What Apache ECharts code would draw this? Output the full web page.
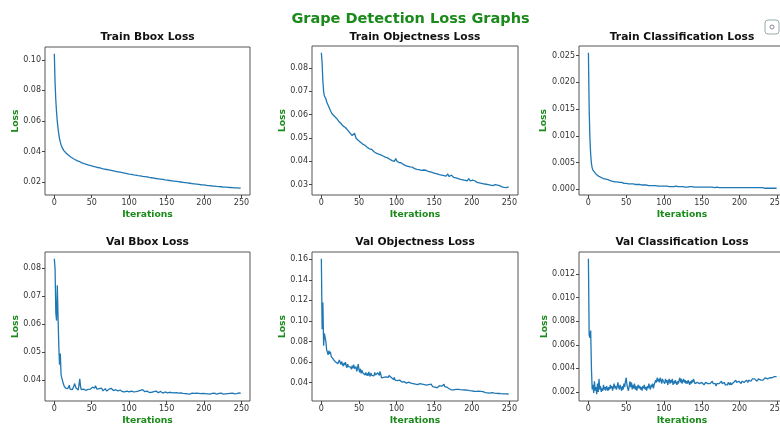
<!DOCTYPE html>
<html><head><meta charset="utf-8">
<script src="https://cdn.jsdelivr.net/npm/echarts@6/dist/echarts.min.js"></script>
<style>html,body{margin:0;padding:0;background:#fff}#c{width:780px;height:427px}</style>
</head><body><div id="c"></div>
<script>
// ---------- DATA (iterations 0..249) ----------
const trainBbox = [
0.1040,0.0850,0.0735,0.0655,0.0595,0.0550,0.0512,0.0483,0.0461,0.0444,
0.0431,0.0420,0.0411,0.0404,0.0398,0.0392,0.0388,0.0383,0.0379,0.0375,
0.0371,0.0367,0.0364,0.0360,0.0357,0.0354,0.0351,0.0348,0.0346,0.0343,
0.0341,0.0338,0.0336,0.0330,0.0333,0.0329,0.0327,0.0325,0.0324,0.0322,
0.0320,0.0319,0.0317,0.0316,0.0314,0.0313,0.0311,0.0310,0.0308,0.0307,
0.0306,0.0304,0.0303,0.0302,0.0300,0.0299,0.0298,0.0297,0.0295,0.0294,
0.0293,0.0292,0.0291,0.0289,0.0288,0.0287,0.0286,0.0285,0.0284,0.0283,
0.0282,0.0281,0.0280,0.0279,0.0278,0.0277,0.0276,0.0275,0.0274,0.0273,
0.0272,0.0271,0.0270,0.0269,0.0268,0.0267,0.0266,0.0265,0.0264,0.0263,
0.0262,0.0261,0.0260,0.0259,0.0258,0.0257,0.0256,0.0255,0.0254,0.0253,
0.0252,0.0251,0.0250,0.0250,0.0249,0.0248,0.0247,0.0246,0.0245,0.0245,
0.0244,0.0243,0.0242,0.0241,0.0241,0.0240,0.0239,0.0238,0.0237,0.0237,
0.0236,0.0235,0.0234,0.0233,0.0233,0.0232,0.0231,0.0230,0.0229,0.0229,
0.0228,0.0227,0.0226,0.0226,0.0225,0.0224,0.0223,0.0223,0.0222,0.0221,
0.0220,0.0220,0.0219,0.0218,0.0217,0.0217,0.0216,0.0215,0.0214,0.0214,
0.0213,0.0212,0.0212,0.0211,0.0210,0.0209,0.0209,0.0208,0.0207,0.0207,
0.0206,0.0205,0.0205,0.0204,0.0203,0.0202,0.0202,0.0201,0.0200,0.0200,
0.0199,0.0198,0.0198,0.0197,0.0196,0.0196,0.0195,0.0194,0.0194,0.0193,
0.0192,0.0192,0.0191,0.0190,0.0190,0.0189,0.0188,0.0188,0.0187,0.0187,
0.0186,0.0185,0.0185,0.0184,0.0184,0.0183,0.0182,0.0182,0.0181,0.0181,
0.0180,0.0179,0.0179,0.0178,0.0178,0.0177,0.0177,0.0176,0.0176,0.0175,
0.0175,0.0174,0.0174,0.0173,0.0173,0.0172,0.0172,0.0171,0.0171,0.0170,
0.0170,0.0170,0.0169,0.0169,0.0168,0.0168,0.0167,0.0167,0.0167,0.0166,
0.0166,0.0165,0.0165,0.0165,0.0164,0.0164,0.0163,0.0163,0.0163,0.0162,
0.0162,0.0162,0.0161,0.0161,0.0161,0.0160,0.0160,0.0160,0.0159,0.0161];

const trainObj = [
0.0865,0.0820,0.0745,0.0700,0.0680,0.0672,0.0668,0.0655,0.0648,0.0640,
0.0632,0.0638,0.0618,0.0612,0.0605,0.0610,0.0598,0.0594,0.0600,0.0588,
0.0585,0.0579,0.0584,0.0572,0.0568,0.0575,0.0562,0.0558,0.0564,0.0551,
0.0553,0.0548,0.0545,0.0549,0.0540,0.0534,0.0538,0.0530,0.0522,0.0526,
0.0519,0.0510,0.0506,0.0512,0.0521,0.0513,0.0500,0.0496,0.0499,0.0490,
0.0484,0.0490,0.0482,0.0477,0.0481,0.0474,0.0470,0.0476,0.0469,0.0463,
0.0467,0.0460,0.0455,0.0459,0.0454,0.0449,0.0456,0.0451,0.0445,0.0448,
0.0441,0.0446,0.0440,0.0435,0.0439,0.0436,0.0431,0.0437,0.0433,0.0428,
0.0431,0.0426,0.0423,0.0428,0.0421,0.0418,0.0424,0.0419,0.0415,0.0420,
0.0412,0.0409,0.0414,0.0407,0.0403,0.0410,0.0405,0.0400,0.0407,0.0412,
0.0403,0.0397,0.0401,0.0395,0.0392,0.0399,0.0394,0.0389,0.0393,0.0387,
0.0391,0.0386,0.0382,0.0388,0.0384,0.0379,0.0385,0.0381,0.0376,0.0383,
0.0380,0.0375,0.0378,0.0372,0.0369,0.0375,0.0371,0.0366,0.0372,0.0368,
0.0365,0.0370,0.0366,0.0361,0.0365,0.0359,0.0363,0.0360,0.0356,0.0362,
0.0358,0.0362,0.0357,0.0353,0.0358,0.0355,0.0350,0.0356,0.0352,0.0348,
0.0353,0.0349,0.0354,0.0350,0.0346,0.0351,0.0347,0.0343,0.0348,0.0344,
0.0341,0.0346,0.0342,0.0339,0.0344,0.0340,0.0337,0.0342,0.0346,0.0338,
0.0335,0.0339,0.0336,0.0341,0.0344,0.0335,0.0331,0.0336,0.0332,0.0329,
0.0333,0.0329,0.0326,0.0331,0.0327,0.0323,0.0328,0.0325,0.0321,0.0326,
0.0322,0.0319,0.0324,0.0320,0.0317,0.0322,0.0326,0.0320,0.0316,0.0319,
0.0315,0.0320,0.0316,0.0312,0.0317,0.0321,0.0314,0.0310,0.0315,0.0311,
0.0308,0.0313,0.0309,0.0306,0.0311,0.0307,0.0304,0.0309,0.0305,0.0302,
0.0307,0.0303,0.0300,0.0305,0.0301,0.0298,0.0303,0.0299,0.0296,0.0301,
0.0297,0.0300,0.0296,0.0293,0.0298,0.0294,0.0291,0.0296,0.0292,0.0295,
0.0291,0.0288,0.0293,0.0289,0.0286,0.0291,0.0288,0.0285,0.0290,0.0291];

const trainCls = [
0.0255,0.0150,0.0095,0.0065,0.0048,0.0040,0.0036,0.0034,0.0032,0.0030,
0.0029,0.0027,0.0026,0.0025,0.0024,0.0023,0.0023,0.0022,0.0021,0.0021,
0.0020,0.0020,0.0019,0.0019,0.0018,0.0018,0.0018,0.0017,0.0017,0.0016,
0.0016,0.0016,0.0015,0.0015,0.0015,0.0014,0.0014,0.0014,0.0014,0.0013,
0.0013,0.0013,0.0013,0.0012,0.0013,0.0012,0.0012,0.0011,0.0012,0.0011,
0.0011,0.0011,0.0011,0.0010,0.0011,0.0010,0.0010,0.0010,0.0010,0.0010,
0.0009,0.0010,0.0009,0.0009,0.0009,0.0009,0.0009,0.0008,0.0009,0.0008,
0.0008,0.0008,0.0008,0.0008,0.0008,0.0008,0.0007,0.0008,0.0007,0.0007,
0.0007,0.0007,0.0007,0.0007,0.0007,0.0008,0.0007,0.0007,0.0006,0.0007,
0.0006,0.0007,0.0006,0.0006,0.0006,0.0006,0.0006,0.0006,0.0006,0.0006,
0.0006,0.0006,0.0006,0.0005,0.0006,0.0005,0.0006,0.0005,0.0005,0.0005,
0.0005,0.0006,0.0005,0.0005,0.0005,0.0005,0.0006,0.0005,0.0005,0.0005,
0.0005,0.0005,0.0005,0.0005,0.0004,0.0005,0.0005,0.0005,0.0004,0.0005,
0.0005,0.0004,0.0005,0.0004,0.0005,0.0004,0.0004,0.0005,0.0004,0.0004,
0.0004,0.0005,0.0004,0.0004,0.0004,0.0004,0.0004,0.0004,0.0004,0.0004,
0.0004,0.0004,0.0004,0.0004,0.0004,0.0004,0.0004,0.0004,0.0004,0.0004,
0.0004,0.0004,0.0004,0.0003,0.0004,0.0004,0.0004,0.0003,0.0004,0.0004,
0.0004,0.0003,0.0004,0.0003,0.0004,0.0003,0.0003,0.0004,0.0003,0.0003,
0.0003,0.0004,0.0003,0.0003,0.0003,0.0003,0.0003,0.0003,0.0003,0.0003,
0.0003,0.0003,0.0003,0.0003,0.0003,0.0003,0.0003,0.0003,0.0003,0.0003,
0.0003,0.0003,0.0003,0.0003,0.0003,0.0003,0.0003,0.0003,0.0003,0.0003,
0.0003,0.0003,0.0003,0.0003,0.0003,0.0003,0.0003,0.0003,0.0003,0.0003,
0.0003,0.0003,0.0003,0.0003,0.0003,0.0002,0.0003,0.0003,0.0003,0.0002,
0.0003,0.0002,0.0003,0.0002,0.0002,0.0003,0.0002,0.0002,0.0002,0.0002,
0.0002,0.0002,0.0002,0.0002,0.0002,0.0002,0.0002,0.0002,0.0002,0.0002];

const valBbox = [
0.0832,0.0795,0.0640,0.0612,0.0738,0.0625,0.0520,0.0455,0.0495,0.0420,
0.0408,0.0402,0.0388,0.0380,0.0376,0.0372,0.0378,0.0374,0.0370,0.0376,
0.0382,0.0368,0.0364,0.0372,0.0366,0.0370,0.0378,0.0388,0.0392,0.0372,
0.0368,0.0374,0.0365,0.0385,0.0405,0.0378,0.0366,0.0370,0.0363,0.0368,
0.0366,0.0372,0.0364,0.0369,0.0362,0.0367,0.0371,0.0365,0.0368,0.0362,
0.0370,0.0375,0.0368,0.0378,0.0372,0.0380,0.0374,0.0368,0.0372,0.0366,
0.0370,0.0364,0.0368,0.0372,0.0366,0.0362,0.0368,0.0364,0.0370,0.0365,
0.0361,0.0367,0.0363,0.0368,0.0362,0.0366,0.0371,0.0365,0.0369,0.0363,
0.0367,0.0362,0.0366,0.0360,0.0365,0.0362,0.0367,0.0361,0.0365,0.0360,
0.0363,0.0359,0.0364,0.0360,0.0358,0.0362,0.0357,0.0361,0.0356,0.0360,
0.0358,0.0363,0.0357,0.0361,0.0356,0.0360,0.0358,0.0362,0.0357,0.0359,
0.0363,0.0358,0.0361,0.0356,0.0360,0.0364,0.0359,0.0362,0.0366,0.0360,
0.0364,0.0359,0.0363,0.0358,0.0361,0.0357,0.0360,0.0356,0.0359,0.0362,
0.0357,0.0360,0.0356,0.0359,0.0355,0.0358,0.0361,0.0356,0.0359,0.0355,
0.0358,0.0356,0.0360,0.0355,0.0358,0.0354,0.0357,0.0355,0.0358,0.0354,
0.0357,0.0355,0.0359,0.0354,0.0357,0.0355,0.0358,0.0356,0.0354,0.0357,
0.0355,0.0358,0.0354,0.0356,0.0353,0.0356,0.0354,0.0357,0.0353,0.0355,
0.0352,0.0355,0.0353,0.0351,0.0354,0.0352,0.0350,0.0353,0.0351,0.0354,
0.0352,0.0350,0.0353,0.0351,0.0354,0.0352,0.0350,0.0353,0.0355,0.0352,
0.0354,0.0351,0.0356,0.0353,0.0351,0.0354,0.0352,0.0355,0.0351,0.0353,
0.0351,0.0354,0.0352,0.0350,0.0353,0.0351,0.0354,0.0352,0.0350,0.0353,
0.0351,0.0353,0.0350,0.0352,0.0354,0.0351,0.0353,0.0350,0.0352,0.0351,
0.0353,0.0350,0.0352,0.0354,0.0351,0.0353,0.0350,0.0352,0.0354,0.0351,
0.0353,0.0355,0.0352,0.0354,0.0351,0.0353,0.0355,0.0352,0.0354,0.0352,
0.0354,0.0351,0.0353,0.0355,0.0352,0.0354,0.0353,0.0355,0.0352,0.0353];

const valObj = [
0.1605,0.0920,0.1180,0.0760,0.0880,0.0895,0.0800,0.0720,0.0695,0.0670,
0.0710,0.0680,0.0700,0.0655,0.0640,0.0660,0.0625,0.0610,0.0630,0.0600,
0.0590,0.0615,0.0585,0.0600,0.0620,0.0595,0.0575,0.0605,0.0580,0.0560,
0.0590,0.0570,0.0600,0.0565,0.0545,0.0580,0.0555,0.0540,0.0570,0.0550,
0.0530,0.0565,0.0540,0.0575,0.0535,0.0520,0.0555,0.0510,0.0540,0.0580,
0.0525,0.0500,0.0535,0.0490,0.0520,0.0495,0.0480,0.0510,0.0475,0.0500,
0.0470,0.0490,0.0465,0.0505,0.0480,0.0460,0.0495,0.0470,0.0455,0.0485,
0.0465,0.0500,0.0475,0.0490,0.0460,0.0495,0.0505,0.0470,0.0510,0.0480,
0.0445,0.0455,0.0440,0.0450,0.0435,0.0445,0.0455,0.0440,0.0460,0.0450,
0.0470,0.0455,0.0475,0.0450,0.0465,0.0445,0.0430,0.0450,0.0425,0.0440,
0.0430,0.0420,0.0435,0.0415,0.0425,0.0410,0.0420,0.0405,0.0415,0.0400,
0.0410,0.0420,0.0400,0.0395,0.0410,0.0395,0.0405,0.0390,0.0400,0.0395,
0.0385,0.0400,0.0390,0.0380,0.0395,0.0385,0.0375,0.0390,0.0380,0.0385,
0.0375,0.0390,0.0380,0.0395,0.0385,0.0375,0.0390,0.0380,0.0370,0.0385,
0.0375,0.0390,0.0370,0.0380,0.0365,0.0375,0.0385,0.0370,0.0360,0.0375,
0.0365,0.0355,0.0370,0.0360,0.0350,0.0365,0.0355,0.0370,0.0360,0.0375,
0.0365,0.0380,0.0370,0.0385,0.0360,0.0350,0.0345,0.0355,0.0340,0.0350,
0.0340,0.0335,0.0345,0.0330,0.0340,0.0335,0.0330,0.0340,0.0325,0.0335,
0.0330,0.0325,0.0335,0.0328,0.0322,0.0332,0.0325,0.0320,0.0330,0.0324,
0.0320,0.0328,0.0322,0.0318,0.0326,0.0320,0.0330,0.0322,0.0316,0.0325,
0.0320,0.0315,0.0322,0.0316,0.0312,0.0320,0.0314,0.0318,0.0310,0.0316,
0.0312,0.0308,0.0314,0.0309,0.0305,0.0312,0.0306,0.0310,0.0303,0.0308,
0.0304,0.0300,0.0306,0.0301,0.0297,0.0303,0.0298,0.0302,0.0296,0.0300,
0.0297,0.0293,0.0299,0.0295,0.0292,0.0298,0.0294,0.0291,0.0296,0.0292,
0.0290,0.0295,0.0291,0.0288,0.0293,0.0290,0.0287,0.0292,0.0289,0.0291];

const valCls = [
0.0133,0.0068,0.0066,0.0072,0.0040,0.0022,0.0026,0.0019,0.0029,0.0021,
0.0024,0.0018,0.0027,0.0020,0.0031,0.0022,0.0025,0.0020,0.0023,0.0021,
0.0026,0.0022,0.0024,0.0021,0.0025,0.0023,0.0021,0.0024,0.0022,0.0026,
0.0023,0.0025,0.0021,0.0024,0.0027,0.0023,0.0025,0.0022,0.0024,0.0028,
0.0024,0.0022,0.0026,0.0023,0.0021,0.0025,0.0022,0.0027,0.0024,0.0029,
0.0032,0.0026,0.0023,0.0021,0.0025,0.0029,0.0024,0.0028,0.0022,0.0026,
0.0023,0.0027,0.0022,0.0025,0.0021,0.0024,0.0026,0.0023,0.0025,0.0022,
0.0024,0.0021,0.0025,0.0023,0.0026,0.0022,0.0024,0.0021,0.0025,0.0023,
0.0027,0.0024,0.0022,0.0026,0.0024,0.0027,0.0023,0.0026,0.0025,0.0030,
0.0028,0.0032,0.0029,0.0031,0.0028,0.0032,0.0030,0.0027,0.0031,0.0029,
0.0030,0.0027,0.0031,0.0028,0.0030,0.0026,0.0029,0.0031,0.0027,0.0030,
0.0028,0.0031,0.0026,0.0029,0.0027,0.0030,0.0028,0.0026,0.0029,0.0027,
0.0030,0.0032,0.0028,0.0031,0.0027,0.0029,0.0031,0.0028,0.0030,0.0027,
0.0029,0.0027,0.0030,0.0028,0.0026,0.0029,0.0027,0.0030,0.0028,0.0031,
0.0029,0.0027,0.0028,0.0026,0.0028,0.0027,0.0029,0.0027,0.0028,0.0026,
0.0028,0.0027,0.0028,0.0026,0.0027,0.0028,0.0027,0.0029,0.0027,0.0028,
0.0026,0.0027,0.0028,0.0027,0.0029,0.0027,0.0026,0.0028,0.0027,0.0025,
0.0027,0.0026,0.0028,0.0027,0.0026,0.0027,0.0029,0.0027,0.0026,0.0027,
0.0028,0.0026,0.0027,0.0025,0.0026,0.0028,0.0027,0.0026,0.0028,0.0026,
0.0027,0.0026,0.0028,0.0027,0.0029,0.0030,0.0028,0.0029,0.0027,0.0029,
0.0028,0.0029,0.0027,0.0029,0.0028,0.0030,0.0028,0.0029,0.0028,0.0030,
0.0029,0.0028,0.0030,0.0029,0.0031,0.0029,0.0030,0.0031,0.0030,0.0032,
0.0031,0.0030,0.0031,0.0029,0.0030,0.0031,0.0030,0.0031,0.0030,0.0031,
0.0031,0.0030,0.0031,0.0031,0.0032,0.0031,0.0032,0.0031,0.0032,0.0032,
0.0032,0.0031,0.0032,0.0032,0.0033,0.0032,0.0033,0.0032,0.0033,0.0033];

const mainTitle = 'Grape Detection Loss Graphs';
const panelTitles = ['Train Bbox Loss','Train Objectness Loss','Train Classification Loss',
                     'Val Bbox Loss','Val Objectness Loss','Val Classification Loss'];
const xTickValues = [0, 50, 100, 150, 200, 250];
const yTickValues = [
  [0.02, 0.04, 0.06, 0.08, 0.10],
  [0.03, 0.04, 0.05, 0.06, 0.07, 0.08],
  [0.000, 0.005, 0.010, 0.015, 0.020, 0.025],
  [0.04, 0.05, 0.06, 0.07, 0.08],
  [0.04, 0.06, 0.08, 0.10, 0.12, 0.14, 0.16],
  [0.002, 0.004, 0.006, 0.008, 0.010, 0.012]
];
const yDecimals = [2, 2, 3, 2, 2, 3];
const xLabel = 'Iterations';
const yLabel = 'Loss';

// ---------- LAYOUT ----------
const seriesData = [trainBbox, trainObj, trainCls, valBbox, valObj, valCls];
const grids = [
  {left: 45,  top: 47,  width: 205, height: 148},
  {left: 312, top: 46,  width: 206, height: 149},
  {left: 579, top: 46,  width: 207, height: 149},
  {left: 45,  top: 252, width: 205, height: 149},
  {left: 312, top: 252, width: 206, height: 149},
  {left: 579, top: 252, width: 207, height: 149}
];
const yNameOffset = [29, 29, 35, 29, 29, 34];
const titleCenters = [147.5, 415, 682, 147.5, 415, 682];
const FONT = 'DejaVu Sans';
const GREEN = '#1a8a1a';

const xAxes = [], yAxes = [], series = [], graphics = [];
seriesData.forEach((d, k) => {
  const n = d.length;
  const xm = (n - 1) * 0.05;
  const mn = Math.min(...d), mx = Math.max(...d);
  const ym = (mx - mn) * 0.05;
  xAxes.push({
    type: 'value', gridIndex: k, min: -xm, max: (n - 1) + xm, position: 'bottom',
    axisLine: {show: false, onZero: false},
    splitLine: {show: false},
    axisTick: {show: true, inside: false, length: 3, lineStyle: {color: '#444'}, customValues: xTickValues},
    axisLabel: {show: true, customValues: xTickValues, fontSize: 8, color: '#333', fontFamily: FONT, margin: 4}
  });
  const dec = yDecimals[k];
  yAxes.push({
    type: 'value', gridIndex: k, min: mn - ym, max: mx + ym, position: 'left',
    axisLine: {show: false, onZero: false},
    splitLine: {show: false},
    axisTick: {show: true, inside: false, length: 3, lineStyle: {color: '#444'}, customValues: yTickValues[k]},
    axisLabel: {show: true, customValues: yTickValues[k], fontSize: 8, color: '#333', fontFamily: FONT, margin: 4,
      formatter: v => Number(v).toFixed(dec)}
  });
  series.push({
    type: 'line', xAxisIndex: k, yAxisIndex: k, showSymbol: false, symbol: 'none',
    data: d.map((v, i) => [i, v]),
    lineStyle: {color: '#1f77b4', width: 1.3},
    itemStyle: {color: '#1f77b4'},
    animation: false
  });
  const g = grids[k];
  const row = k < 3 ? 0 : 1;
  graphics.push({type: 'text', x: titleCenters[k], y: row === 0 ? 37 : 242.5,
    style: {text: panelTitles[k], font: 'bold 10.7px "DejaVu Sans"', fill: '#111', align: 'center', verticalAlign: 'middle'}});
  graphics.push({type: 'text', x: titleCenters[k], y: row === 0 ? 215 : 421,
    style: {text: xLabel, font: 'bold 9.2px "DejaVu Sans"', fill: GREEN, align: 'center', verticalAlign: 'middle'}});
  graphics.push({type: 'text', x: g.left - yNameOffset[k], y: g.top + g.height / 2, rotation: Math.PI / 2,
    style: {text: yLabel, font: 'bold 9.2px "DejaVu Sans"', fill: GREEN, align: 'center', verticalAlign: 'middle'}});
});
graphics.push({type: 'text', x: 410.5, y: 19,
  style: {text: mainTitle, font: 'bold 14.5px "DejaVu Sans"', fill: GREEN, align: 'center', verticalAlign: 'middle'}});
// small screenshot lens icon in the corner
graphics.push({type: 'rect', shape: {x: 765, y: 20, width: 14, height: 14, r: 3},
  style: {fill: 'none', stroke: '#9aa', lineWidth: 1}});
graphics.push({type: 'circle', shape: {cx: 772, cy: 27, r: 2},
  style: {fill: 'none', stroke: '#889', lineWidth: 1}});

const chart = echarts.init(document.getElementById('c'), null, {renderer: 'canvas'});
chart.setOption({
  backgroundColor: '#fff',
  animation: false,
  grid: grids.map(g => Object.assign({show: true, borderColor: '#555', borderWidth: 1, backgroundColor: '#fff',
    containLabel: false, outerBoundsMode: 'none'}, g)),
  xAxis: xAxes,
  yAxis: yAxes,
  series: series,
  graphic: graphics
});
</script>
</body></html>
